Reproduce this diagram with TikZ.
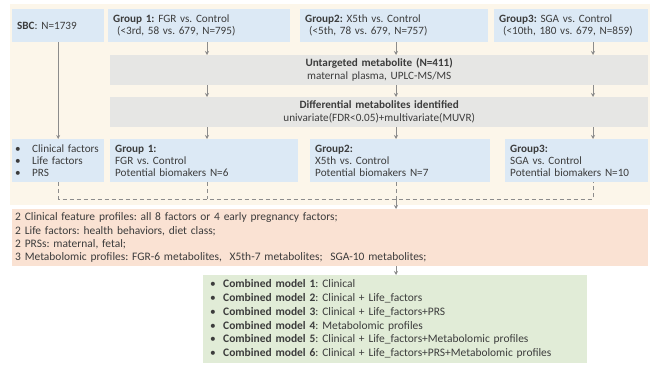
\documentclass[tikz,border=0pt]{standalone}
\usepackage{fontspec}
\setmainfont{Carlito}
\usetikzlibrary{arrows.meta, positioning}

\definecolor{cream}{HTML}{FCF6EA}
\definecolor{boxblue}{HTML}{DCE9F5}
\definecolor{boxgray}{HTML}{E6E6E4}
\definecolor{boxorange}{HTML}{FAE2D3}
\definecolor{boxgreen}{HTML}{E1ECD7}
\definecolor{linegray}{HTML}{8C8C8C}
\definecolor{txt}{HTML}{3C3C3C}

% one bullet line inside a box
\newcommand{\bulletrow}[2][14bp]{\mbox{\makebox[#1][l]{\textbullet}#2}}

\tikzset{
  box/.style={anchor=north west, inner xsep=5bp, inner ysep=0pt, align=left, text=txt},
  bluebox/.style={box, fill=boxblue, font=\fontsize{11.2}{12}\selectfont},
  graybox/.style={box, fill=boxgray, align=center, font=\fontsize{11.2}{13}\selectfont},
  orangebox/.style={box, fill=boxorange, inner xsep=3bp, font=\fontsize{11.5}{13.3}\selectfont},
  greenbox/.style={box, fill=boxgreen, inner xsep=7bp, font=\fontsize{11.5}{13.8}\selectfont},
  arr/.style={draw=linegray, line width=0.8bp, -{Stealth[length=4bp, width=4bp]}},
  dashline/.style={draw=linegray, line width=1bp, dash pattern=on 4bp off 3bp}
}

\begin{document}
\frenchspacing
\begin{tikzpicture}[x=1bp, y=-1bp]
\useasboundingbox (0,0) rectangle (650,366);
\fill[cream] (10,4) rectangle (650,205);

% columns of the three groups
\coordinate (c1) at (207,0);
\coordinate (c2) at (396,0);
\coordinate (c3) at (593,0);

% cohort and groups
\node[bluebox, text width=82bp, minimum height=33bp] (sbc) at (12,9) {\textbf{SBC}: N=1739};
\node[bluebox, text width=172bp, minimum height=33bp] (g1top) at (108,9)
  {\textbf{Group 1:} FGR vs. Control\\\hspace*{4bp}(<3rd, 58 vs. 679, N=795)};
\node[bluebox, text width=178bp, minimum height=33bp] (g2top) at (300,9)
  {\textbf{Group2:} X5th vs. Control\\\hspace*{4bp}(<5th, 78 vs. 679, N=757)};
\node[bluebox, text width=144bp, minimum height=33bp] (g3top) at (494,9)
  {\textbf{Group3:} SGA vs. Control\\\hspace*{4bp}(<10th, 180 vs. 679, N=859)};

% metabolomics steps
\node[graybox, text width=528bp, minimum height=30bp] (untgt) at (110,55)
  {\textbf{Untargeted metabolite (N=411)}\\maternal plasma, UPLC-MS/MS};
\node[graybox, text width=528bp, minimum height=30bp] (diff) at (110,97)
  {\textbf{Differential metabolites identified}\\univariate(FDR<0.05)+multivariate(MUVR)};

% factors and biomarkers
\node[bluebox, inner xsep=3bp, text width=86bp, minimum height=43bp] (factors) at (12,139)
  {\bulletrow[17bp]{Clinical factors}\\\bulletrow[17bp]{Life factors}\\\bulletrow[17bp]{PRS}};
\node[bluebox, text width=178bp, minimum height=43bp] (g1bot) at (110,139)
  {\textbf{Group 1:}\\FGR vs. Control\\Potential biomakers N=6};
\node[bluebox, text width=170bp, minimum height=43bp] (g2bot) at (310,139)
  {\textbf{Group2:}\\X5th vs. Control\\Potential biomakers N=7};
\node[bluebox, text width=133bp, minimum height=43bp] (g3bot) at (505,139)
  {\textbf{Group3:}\\SGA vs. Control\\Potential biomakers N=10};

% feature profiles
\node[orangebox, text width=630bp, minimum height=57bp] (feat) at (12,209)
  {2 Clinical feature profiles: all 8 factors or 4 early pregnancy factors;\\
   2 Life factors: health behaviors, diet class;\\
   2 PRSs: maternal, fetal;\\
   3 Metabolomic profiles: FGR-6 metabolites,\ \ X5th-7 metabolites;\ \ SGA-10 metabolites;};

% combined models
\node[greenbox, text width=370bp, minimum height=88bp] (combo) at (203,275)
  {\bulletrow[13bp]{\textbf{Combined model 1}: Clinical}\\
   \bulletrow[13bp]{\textbf{Combined model 2}: Clinical + Life\_factors}\\
   \bulletrow[13bp]{\textbf{Combined model 3}: Clinical + Life\_factors+PRS}\\
   \bulletrow[13bp]{\textbf{Combined model 4}: Metabolomic profiles}\\
   \bulletrow[13bp]{\textbf{Combined model 5}: Clinical + Life\_factors+Metabolomic profiles}\\
   \bulletrow[13bp]{\textbf{Combined model 6}: Clinical + Life\_factors+PRS+Metabolomic profiles}};

% arrows through the pipeline
\draw[arr] (g1top.south -| c1) -- (untgt.north -| c1);
\draw[arr] (g2top.south -| c2) -- (untgt.north -| c2);
\draw[arr] (g3top.south -| c3) -- (untgt.north -| c3);
\draw[arr] (untgt.south -| c1) -- (diff.north -| c1);
\draw[arr] (untgt.south -| c2) -- (diff.north -| c2);
\draw[arr] (untgt.south -| c3) -- (diff.north -| c3);
\draw[arr] (diff.south -| c1) -- (g1bot.north -| c1);
\draw[arr] (diff.south -| c2) -- (g2bot.north -| c2);
\draw[arr] (diff.south -| c3) -- (g3bot.north -| c3);
\draw[arr] (sbc) -- (factors);

% everything joins into the feature profiles
\coordinate (join) at (593,199);
\draw[dashline] (factors.south) -- (factors.south |- join) -- (join) -- (g3bot.south -| c3);
\draw[dashline] (g1bot.south -| c1) -- (join -| c1);
\draw[dashline] (g2bot.south -| c2) -- (join -| c2);
\draw[arr] (join -| c2) -- (feat.north -| c2);
\draw[arr] (feat.south -| c2) -- (combo.north -| c2);
\end{tikzpicture}
\end{document}
